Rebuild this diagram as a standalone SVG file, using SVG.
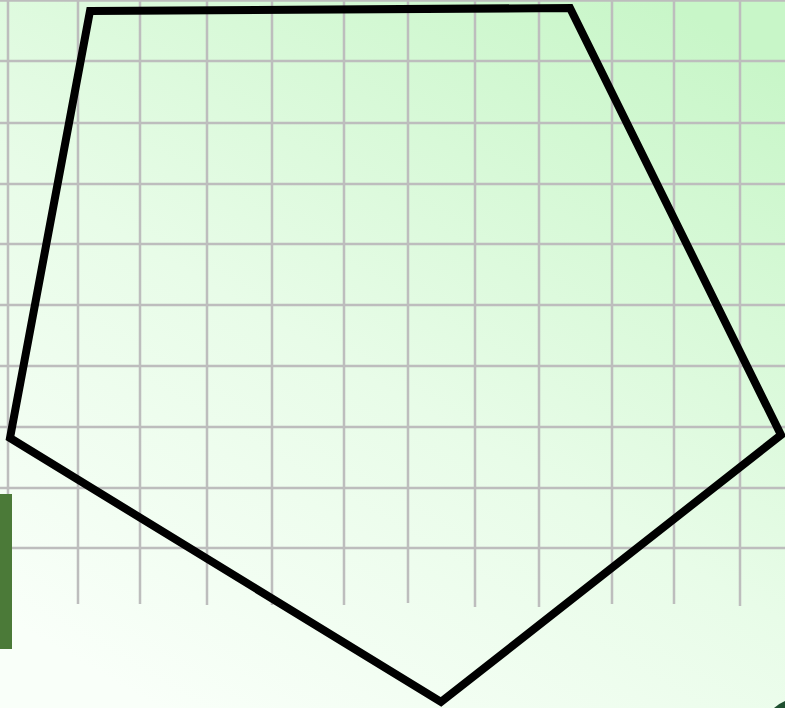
<svg xmlns="http://www.w3.org/2000/svg" width="785" height="708" viewBox="0 0 785 708">
  <defs>
    <linearGradient id="bg" x1="0.2" y1="1" x2="0.85" y2="0">
      <stop offset="0" stop-color="#f9fff9"/>
      <stop offset="0.45" stop-color="#e8fce8"/>
      <stop offset="1" stop-color="#c8f6c8"/>
    </linearGradient>
    <style>
      .grid line { stroke: #bdbdbd; stroke-width: 2.5; }
      .shape { fill: none; stroke: #000; stroke-width: 8; stroke-linejoin: miter; }
    </style>
  </defs>
  <rect x="0" y="0" width="785" height="708" fill="url(#bg)"/>
  <g class="grid" id="grid">
    <line x1="0" y1="0.5" x2="785" y2="0.5"/>
    <line x1="0" y1="61" x2="785" y2="61"/>
    <line x1="0" y1="123" x2="785" y2="123"/>
    <line x1="0" y1="184" x2="785" y2="184"/>
    <line x1="0" y1="244" x2="785" y2="244"/>
    <line x1="0" y1="305" x2="785" y2="305"/>
    <line x1="0" y1="366" x2="785" y2="366"/>
    <line x1="0" y1="427" x2="785" y2="427"/>
    <line x1="0" y1="488" x2="785" y2="488"/>
    <line x1="0" y1="548" x2="785" y2="548"/>
    <line x1="8" y1="0" x2="8" y2="604"/>
    <line x1="78" y1="0" x2="78" y2="604"/>
    <line x1="140" y1="0" x2="140" y2="604"/>
    <line x1="207" y1="0" x2="207" y2="605"/>
    <line x1="272" y1="0" x2="272" y2="605"/>
    <line x1="344" y1="0" x2="344" y2="605"/>
    <line x1="408" y1="0" x2="408" y2="603"/>
    <line x1="475" y1="0" x2="475" y2="607"/>
    <line x1="539" y1="0" x2="539" y2="607"/>
    <line x1="612" y1="0" x2="612" y2="604"/>
    <line x1="674" y1="0" x2="674" y2="604"/>
    <line x1="740" y1="0" x2="740" y2="606"/>
  </g>
  <g id="bar">
    <rect x="0" y="494" width="12" height="155" fill="#4b7a38"/>
  </g>
  <g id="corner">
    <path d="M774 708 Q780 703 785 701 L785 708 Z" fill="#1f5030"/>
  </g>
  <g id="pentagon">
    <polygon class="shape" points="90,11 570,8 781,435 441,702 10,438"/>
  </g>
</svg>
